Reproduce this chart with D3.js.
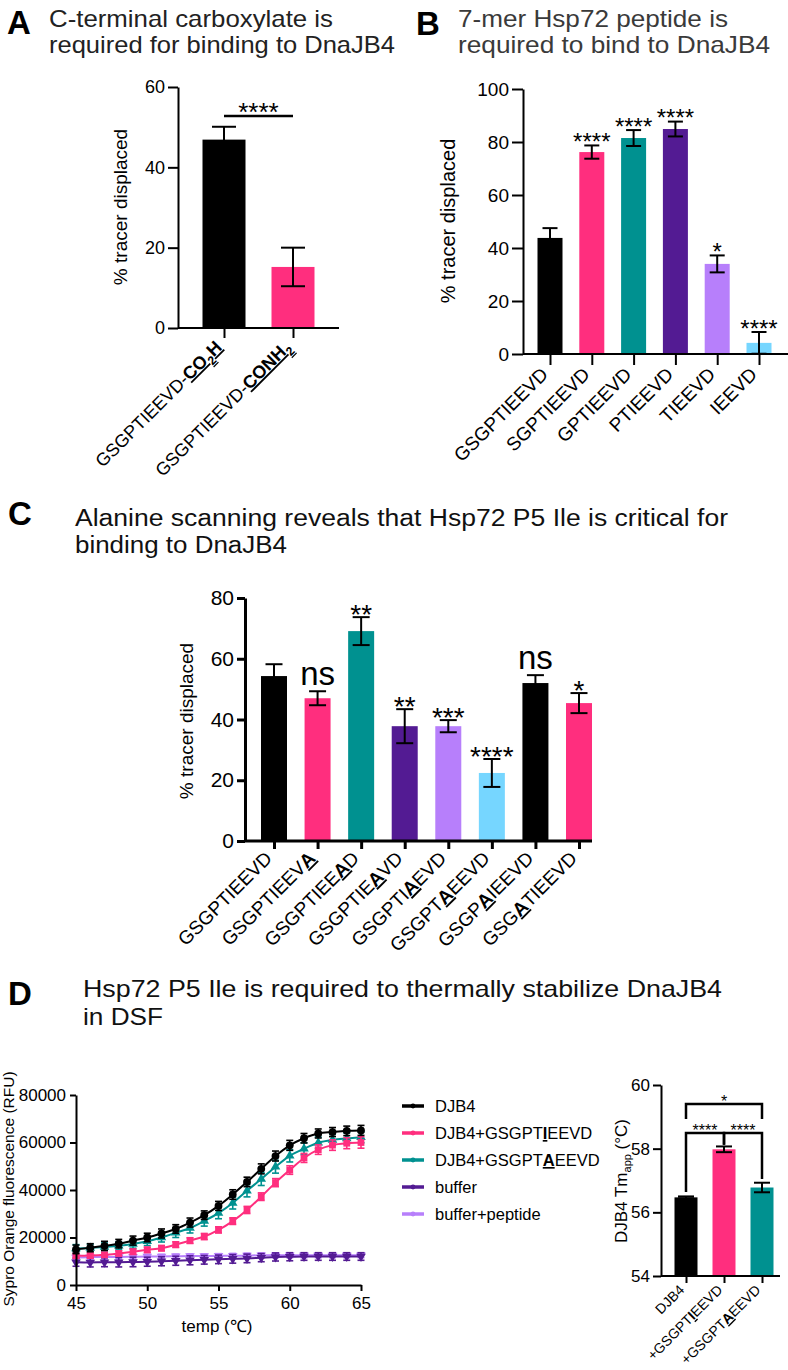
<!DOCTYPE html>
<html><head><meta charset="utf-8">
<script src="https://cdn.jsdelivr.net/npm/d3@7"></script>
<style>
body{margin:0;background:#fff;}
svg{display:block;font-family:"Liberation Sans",Arial,Helvetica,sans-serif;}
</style></head><body>
<svg id="chart" width="788" height="1370"></svg>
<script>
// ---------- DATA ----------
// Panel A
const catsA = ["GSGPTIEEVD-[CO_2H]", "GSGPTIEEVD-[CONH_2]"];
const valsA = [46.9, 15.2];
const errA = [3.2, 4.8];
const ticksA = [0, 20, 40, 60];
const sigA = {from: 0, to: 1, y: 52.8, label: "****"};

// Panel B
const catsB = ["GSGPTIEEVD", "SGPTIEEVD", "GPTIEEVD", "PTIEEVD", "TIEEVD", "IEEVD"];
const valsB = [43.8, 76.2, 81.5, 84.9, 34.0, 4.2];
const errB = [3.7, 2.5, 3.0, 2.8, 3.2, 4.1];
const starsB = ["", "****", "****", "****", "*", "****"];
const ticksB = [0, 20, 40, 60, 80, 100];

// Panel C
const catsC = ["GSGPTIEEVD", "GSGPTIEEV[A]", "GSGPTIEE[A]D", "GSGPTIE[A]VD", "GSGPTI[A]EVD", "GSGPT[A]EEVD", "GSGP[A]IEEVD", "GSG[A]TIEEVD"];
const valsC = [54.3, 47.0, 69.1, 37.8, 37.8, 22.4, 52.0, 45.4];
const errC = [3.9, 2.3, 4.6, 5.6, 2.0, 4.6, 2.6, 3.3];
const sigC = ["", "ns", "**", "**", "***", "****", "ns", "*"];
const ticksC = [0, 20, 40, 60, 80];

// Panel D (DSF curves)
const tempC = [45, 46, 47, 48, 49, 50, 51, 52, 53, 54, 55, 56, 57, 58, 59, 60, 61, 62, 63, 64, 65];
const rfuDJB4 = [15000,15700,16500,17400,18700,20000,21700,23600,26300,29400,33300,38100,43400,48900,54300,58800,61800,63800,64400,64900,65100];
const errDJB4 = [1800,1700,1900,1800,1900,1800,1900,1800,1900,1800,1900,2000,2000,2100,2100,2100,2000,1900,1900,2000,2100];
const rfuIle = [12300,12400,12700,13300,14000,14800,15500,17000,18700,20400,23200,26900,31600,37200,43100,48400,53500,57000,58900,59700,60000];
const errIle = [900,900,1000,1000,1100,1100,1100,1200,1200,1300,1300,1400,1500,1600,1700,1800,1900,2000,2200,2300,2400];
const rfuAla = [15400,15600,16000,16500,17300,18400,20000,22000,24000,27000,30300,34500,39700,44600,49800,54400,57400,59900,61100,61700,62200];
const errAla = [1600,1600,1700,1700,1800,1800,1900,2000,2100,2200,2400,2500,2600,2700,2700,2600,2500,2400,2300,2300,2300];
const rfuBuffer = [9600,9500,9600,9600,9700,9800,10000,10200,10400,10600,10800,11000,11200,11500,11800,11900,12000,12000,12000,12000,12000];
const errBuffer = [1700,1900,1900,2000,2000,1900,1900,1900,1900,1800,1800,1800,1800,1700,1700,1700,1600,1600,1600,1600,1600];
const rfuBufPep = [11600,11700,11800,11800,11900,12000,12000,12100,12200,12200,12300,12300,12400,12500,12500,12500,12500,12500,12500,12500,12500];
const errBufPep = [800,800,800,900,900,900,900,900,900,900,900,1000,1000,1000,1000,1000,1000,1000,1000,1000,1000];
const seriesNames = ["DJB4", "DJB4+GSGPT[I]EEVD", "DJB4+GSGPT[A]EEVD", "buffer", "buffer+peptide"];
const xTicksD = [45, 50, 55, 60, 65];
const yTicksD = [0, 20000, 40000, 60000, 80000];

// Panel D inset (Tm)
const catsTm = ["DJB4", "+GSGPT[I]EEVD", "+GSGPT[A]EEVD"];
const valsTm = [56.47, 57.98, 56.78];
const errTm = [0.03, 0.09, 0.15];
const ticksTm = [54, 56, 58, 60];
const sigTm = [
  {from: 0, to: 2, y: 59.40, legs: [58.93, 58.93], label: "*"},
  {from: 0, to: 1, y: 58.49, legs: [56.64, 58.12], label: "****"},
  {from: 1, to: 2, y: 58.49, legs: [58.12, 57.05], label: "****"}
];

// ---------- STYLE ----------
const COL = {black:"#000000", pink:"#FF2E7E", teal:"#009190", purple:"#531B93", lav:"#B77FFB", lblue:"#76D6FF"};
const colorsA = [COL.black, COL.pink];
const colorsB = [COL.black, COL.pink, COL.teal, COL.purple, COL.lav, COL.lblue];
const colorsC = [COL.black, COL.pink, COL.teal, COL.purple, COL.lav, COL.lblue, COL.black, COL.pink];

const svg = d3.select("#chart");
svg.append("rect").attr("width", 788).attr("height", 1370).attr("fill", "#fff");

// rich label: [..] = bold underlined, _x = subscript
function rich(text, str, fs) {
  const parts = str.split(/(\[[^\]]*\])/).filter(s => s.length);
  let shift = 0;
  parts.forEach(p => {
    const bold = p.startsWith("[");
    const s = bold ? p.slice(1, -1) : p;
    s.split(/(_.)/).filter(q => q.length).forEach(q => {
      const isSub = q.startsWith("_") && q.length === 2;
      const t = text.append("tspan").text(isSub ? q.slice(1) : q);
      if (bold) t.attr("font-weight", "bold").style("text-decoration", "underline");
      if (isSub) { t.attr("font-size", fs * 0.68).attr("dy", fs * 0.28); shift = fs * 0.28; }
      else if (shift) { t.attr("dy", -shift); shift = 0; }
    });
  });
}

function title(letter, lx, ly, lines, tx, ty, lh, fs, color, widths) {
  svg.append("text").attr("x", lx).attr("y", ly).attr("font-size", 33).attr("font-weight", "bold").attr("fill", "#000").text(letter);
  lines.forEach((l, i) => {
    const t = svg.append("text").attr("x", tx).attr("y", ty + i * lh).attr("font-size", fs).attr("fill", color).text(l);
    if (widths && widths[i]) t.attr("textLength", widths[i]).attr("lengthAdjust", "spacingAndGlyphs");
  });
}

function barPanel(o) {
  const g = svg.append("g");
  const y = d3.scaleLinear().domain(o.yDomain).range(o.yRange);
  const x = d3.scalePoint().domain(o.cats).range(o.xRange);
  const base = y(o.yDomain[0]);
  g.selectAll("rect.bar").data(o.cats).join("rect")
    .attr("x", d => x(d) - o.barW / 2).attr("width", o.barW)
    .attr("y", (d, i) => y(o.vals[i])).attr("height", (d, i) => base - y(o.vals[i]))
    .attr("fill", (d, i) => o.colors[i]);
  const eg = g.append("g").attr("stroke", "#000").attr("stroke-width", o.errW || 2).attr("fill", "none");
  o.cats.forEach((c, i) => {
    const cx = x(c), hi = y(o.vals[i] + o.errs[i]), lo = y(Math.max(o.yDomain[0], o.vals[i] - o.errs[i]));
    eg.append("line").attr("x1", cx).attr("x2", cx).attr("y1", hi).attr("y2", lo);
    eg.append("line").attr("x1", cx - o.capW / 2).attr("x2", cx + o.capW / 2).attr("y1", hi).attr("y2", hi);
    if (o.vals[i] - o.errs[i] > o.yDomain[0])
      eg.append("line").attr("x1", cx - o.capW / 2).attr("x2", cx + o.capW / 2).attr("y1", lo).attr("y2", lo);
  });
  const ya = g.append("g").attr("transform", `translate(${o.axisX},0)`)
    .call(d3.axisLeft(y).tickValues(o.yTicks).tickSize(o.tickLen).tickSizeOuter(0).tickPadding(3));
  ya.selectAll("path,line").attr("stroke", "#000").attr("stroke-width", o.axisW);
  ya.selectAll("text").attr("font-size", o.tickFs).attr("fill", "#000").attr("font-family", null);
  g.append("line").attr("x1", o.axisX).attr("x2", o.xEnd).attr("y1", base).attr("y2", base)
    .attr("stroke", "#000").attr("stroke-width", o.axisW);
  const xa = g.append("g").attr("transform", `translate(0,${base})`)
    .call(d3.axisBottom(x).tickSize(o.tickLen).tickSizeOuter(0).tickFormat(""));
  xa.select(".domain").remove();
  xa.selectAll("line").attr("stroke", "#000").attr("stroke-width", o.axisW);
  o.cats.forEach(c => {
    const t = g.append("text").attr("font-size", o.labFs).attr("text-anchor", "end").attr("fill", "#000")
      .attr("transform", `translate(${x(c)},${base + o.tickLen}) rotate(-45)`)
      .attr("x", -o.labGap).attr("y", 0).attr("dy", "0.36em");
    rich(t, c, o.labFs);
  });
  svg.append("text").attr("font-size", o.yLab.fs).attr("text-anchor", "middle").attr("fill", "#000")
    .attr("transform", `translate(${o.yLab.x},${o.yLab.y}) rotate(-90)`).text(o.yLab.text);
  return {x, y, g};
}

// ---------- PANEL A ----------
title("A", 7, 34, ["C-terminal carboxylate is", "required for binding to DnaJB4"], 49, 27, 26, 24, "#222", [284, 346]);
const pA = barPanel({cats: catsA, vals: valsA, errs: errA, colors: colorsA, yDomain: [0, 60], yRange: [328, 87],
  xRange: [224, 293], xEnd: 339, axisX: 178, barW: 43, capW: 24, yTicks: ticksA, tickLen: 10, axisW: 2,
  tickFs: 18, labFs: 18, labGap: 8, yLab: {text: "% tracer displaced", x: 127, y: 207, fs: 19}});
{
  const x1 = pA.x(catsA[sigA.from]), x2 = pA.x(catsA[sigA.to]), yy = pA.y(sigA.y);
  svg.append("line").attr("x1", x1).attr("x2", x2).attr("y1", yy).attr("y2", yy).attr("stroke", "#000").attr("stroke-width", 2.5);
  svg.append("text").attr("x", (x1 + x2) / 2).attr("y", yy - 10 + 0.575 * 26).attr("font-size", 26).attr("text-anchor", "middle").text(sigA.label);
}

// ---------- PANEL B ----------
title("B", 416, 35, ["7-mer Hsp72 peptide is", "required to bind to DnaJB4"], 458, 27, 26, 24, "#3a3a3a", [270, 312]);
const pB = barPanel({cats: catsB, vals: valsB, errs: errB, colors: colorsB, yDomain: [0, 100], yRange: [354, 89],
  xRange: [550, 759], xEnd: 788, axisX: 523, barW: 25, capW: 15, yTicks: ticksB, tickLen: 11, axisW: 2,
  tickFs: 19, labFs: 19, labGap: 8, yLab: {text: "% tracer displaced", x: 455, y: 221, fs: 20}});
catsB.forEach((c, i) => {
  if (!starsB[i]) return;
  const top = pB.y(valsB[i] + errB[i]);
  svg.append("text").attr("x", pB.x(c)).attr("y", top - 9 + 0.575 * 24).attr("font-size", 24).attr("text-anchor", "middle").text(starsB[i]);
});

// ---------- PANEL C ----------
title("C", 8, 525, ["Alanine scanning reveals that Hsp72 P5 Ile is critical for", "binding to DnaJB4"], 75, 526, 27, 23, "#111", [653, 212]);
const pC = barPanel({cats: catsC, vals: valsC, errs: errC, colors: colorsC, yDomain: [0, 80], yRange: [841, 598],
  xRange: [274, 579], xEnd: 592, axisX: 245, barW: 26, capW: 17, yTicks: ticksC, tickLen: 8, axisW: 3,
  tickFs: 21, labFs: 19, labGap: 8, yLab: {text: "% tracer displaced", x: 193, y: 721, fs: 19}});
catsC.forEach((c, i) => {
  if (!sigC[i]) return;
  const top = pC.y(valsC[i] + errC[i]);
  if (sigC[i] === "ns") {
    svg.append("text").attr("x", pC.x(c)).attr("y", top - 6).attr("font-size", 33).attr("text-anchor", "middle").text("ns");
  } else {
    svg.append("text").attr("x", pC.x(c)).attr("y", top - 9 + 0.575 * 28).attr("font-size", 28).attr("text-anchor", "middle").text(sigC[i]);
  }
});

// ---------- PANEL D ----------
title("D", 8, 1005, ["Hsp72 P5 Ile is required to thermally stabilize DnaJB4", "in DSF"], 83, 997, 28, 24, "#111", [639, 80]);
{
  const x = d3.scaleLinear().domain([45, 65]).range([76, 361]);
  const y = d3.scaleLinear().domain([0, 80000]).range([1285, 1095]);
  const g = svg.append("g");
  const series = [
    {name: seriesNames[4], v: rfuBufPep, e: errBufPep, c: COL.lav, sym: "down"},
    {name: seriesNames[3], v: rfuBuffer, e: errBuffer, c: COL.purple, sym: "down"},
    {name: seriesNames[2], v: rfuAla, e: errAla, c: COL.teal, sym: "up"},
    {name: seriesNames[1], v: rfuIle, e: errIle, c: COL.pink, sym: "square"},
    {name: seriesNames[0], v: rfuDJB4, e: errDJB4, c: COL.black, sym: "circle"}
  ];
  const symGen = {
    circle: d3.symbol(d3.symbolCircle, 48)(),
    square: d3.symbol(d3.symbolSquare, 46)(),
    up: d3.symbol(d3.symbolTriangle, 40)(),
    down: d3.symbol(d3.symbolTriangle, 40)()
  };
  const line = d3.line().x((d, i) => x(tempC[i])).y(d => y(d)).curve(d3.curveMonotoneX);
  series.forEach(s => {
    const sg = g.append("g");
    sg.append("path").attr("d", line(s.v)).attr("fill", "none").attr("stroke", s.c).attr("stroke-width", 2);
    s.v.forEach((v, i) => {
      const cx = x(tempC[i]);
      sg.append("line").attr("x1", cx).attr("x2", cx).attr("y1", y(v + s.e[i])).attr("y2", y(v - s.e[i])).attr("stroke", s.c).attr("stroke-width", 1.6);
      [v + s.e[i], v - s.e[i]].forEach(w => sg.append("line").attr("x1", cx - 3.5).attr("x2", cx + 3.5).attr("y1", y(w)).attr("y2", y(w)).attr("stroke", s.c).attr("stroke-width", 1.6));
      sg.append("path").attr("d", symGen[s.sym]).attr("fill", s.c)
        .attr("transform", `translate(${cx},${y(v)})` + (s.sym === "down" ? " rotate(180)" : ""));
    });
  });
  const ya = g.append("g").attr("transform", "translate(76,0)").call(d3.axisLeft(y).tickValues(yTicksD).tickSize(6).tickSizeOuter(0).tickFormat(d3.format("d")).tickPadding(4));
  const xa = g.append("g").attr("transform", "translate(0,1285)").call(d3.axisBottom(x).tickValues(xTicksD).tickSize(6).tickSizeOuter(0).tickPadding(6));
  [ya, xa].forEach(a => { a.selectAll("path,line").attr("stroke", "#000").attr("stroke-width", 2); a.selectAll("text").attr("font-size", 17).attr("fill", "#000").attr("font-family", null); });
  svg.append("text").attr("x", 217).attr("y", 1332).attr("font-size", 17).attr("text-anchor", "middle").text("temp (℃)");
  svg.append("text").attr("font-size", 15.5).attr("text-anchor", "middle").attr("transform", "translate(14,1189) rotate(-90)").text("Sypro Orange fluorescence (RFU)");

  const leg = svg.append("g");
  seriesNames.forEach((n, i) => {
    const s = series.find(q => q.name === n);
    const ly = 1106 + i * 27;
    leg.append("line").attr("x1", 402).attr("x2", 424).attr("y1", ly).attr("y2", ly).attr("stroke", s.c).attr("stroke-width", 3.5);
    leg.append("path").attr("d", d3.symbol(d3.symbolCircle, 18)()).attr("fill", s.c).attr("transform", `translate(413,${ly})`);
    const t = leg.append("text").attr("x", 435).attr("y", ly + 6).attr("font-size", 16.5).attr("fill", "#000");
    rich(t, n, 16.5);
  });
}

// ---------- PANEL D inset ----------
{
  const y = d3.scaleLinear().domain([54, 60]).range([1276, 1085]);
  const x = d3.scalePoint().domain(catsTm).range([686, 762]);
  const g = svg.append("g");
  const colorsTm = [COL.black, COL.pink, COL.teal];
  g.selectAll("rect").data(catsTm).join("rect")
    .attr("x", d => x(d) - 11.5).attr("width", 23)
    .attr("y", (d, i) => y(valsTm[i])).attr("height", (d, i) => 1276 - y(valsTm[i]))
    .attr("fill", (d, i) => colorsTm[i]);
  catsTm.forEach((c, i) => {
    const cx = x(c), hi = y(valsTm[i] + errTm[i]), lo = y(valsTm[i] - errTm[i]);
    g.append("line").attr("x1", cx).attr("x2", cx).attr("y1", hi).attr("y2", lo).attr("stroke", "#000").attr("stroke-width", 2);
    [hi, lo].forEach(yy => g.append("line").attr("x1", cx - 8).attr("x2", cx + 8).attr("y1", yy).attr("y2", yy).attr("stroke", "#000").attr("stroke-width", 2));
  });
  sigTm.forEach(s => {
    const x1 = x(catsTm[s.from]), x2 = x(catsTm[s.to]), yy = y(s.y);
    g.append("path").attr("d", `M${x1},${y(s.legs[0])}V${yy}H${x2}V${y(s.legs[1])}`).attr("fill", "none").attr("stroke", "#000").attr("stroke-width", 2.5);
    g.append("text").attr("x", (x1 + x2) / 2).attr("y", yy - 6 + 0.575 * 16).attr("font-size", 16).attr("text-anchor", "middle").text(s.label);
  });
  const ya = g.append("g").attr("transform", "translate(661,0)").call(d3.axisLeft(y).tickValues(ticksTm).tickSize(8).tickSizeOuter(0).tickFormat(d3.format("d")).tickPadding(3));
  g.append("line").attr("x1", 661).attr("x2", 780).attr("y1", 1276).attr("y2", 1276).attr("stroke", "#000").attr("stroke-width", 2);
  const xa = g.append("g").attr("transform", "translate(0,1276)").call(d3.axisBottom(x).tickSize(7).tickSizeOuter(0).tickFormat(""));
  xa.select(".domain").remove();
  [ya, xa].forEach(a => { a.selectAll("path,line").attr("stroke", "#000").attr("stroke-width", 2); a.selectAll("text").attr("font-size", 17).attr("fill", "#000").attr("font-family", null); });
  catsTm.forEach(c => {
    const t = g.append("text").attr("font-size", 14).attr("text-anchor", "end")
      .attr("transform", `translate(${x(c)},${1283}) rotate(-45)`).attr("x", -6).attr("dy", "0.36em");
    rich(t, c, 14);
  });
  const yl = svg.append("text").attr("font-size", 17).attr("text-anchor", "middle").attr("transform", "translate(627,1181) rotate(-90)");
  yl.append("tspan").text("DJB4 Tm");
  yl.append("tspan").text("app").attr("font-size", 11).attr("dy", 4);
  yl.append("tspan").text(" (°C)").attr("dy", -4);
}
</script>
</body></html>
